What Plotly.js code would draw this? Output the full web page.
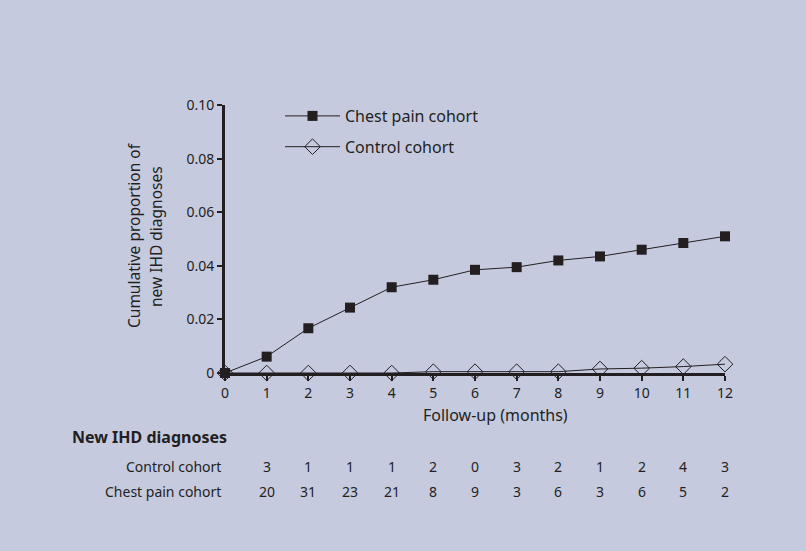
<!DOCTYPE html>
<html><head><meta charset="utf-8">
<script src="https://cdn.plot.ly/plotly-3.0.1.min.js"></script>
<style>html,body{margin:0;padding:0;background:#c5cadf}</style>
</head><body><div id="chart" style="width:806px;height:551px"></div>
<script>
const months = [0,1,2,3,4,5,6,7,8,9,10,11,12];
const chestPain = [0,0.0061,0.0167,0.0244,0.032,0.0348,0.0385,0.0395,0.042,0.0435,0.046,0.0485,0.051];
const control = [0,0,0,0,0,0.0005,0.0005,0.0005,0.0005,0.0015,0.0018,0.0024,0.0033];
const yTickVals = [0,0.02,0.04,0.06,0.08,0.10];
const yTickText = ['0','0.02','0.04','0.06','0.08','0.10'];
const tableMonths = [1,2,3,4,5,6,7,8,9,10,11,12];
const controlCounts = [3,1,1,1,2,0,3,2,1,2,4,3];
const chestCounts = [20,31,23,21,8,9,3,6,3,6,5,2];
const seriesNames = ['Chest pain cohort','Control cohort'];
const tableTitle = 'New IHD diagnoses';
const xTitle = 'Follow-up (months)';
const yTitleLines = ['Cumulative proportion of','new IHD diagnoses'];

const ink = '#231f20';
const font = 'Noto Sans, Open Sans, sans-serif';
const M = {l:225, r:81, t:105, b:178};
const plotH = 551 - M.t - M.b, plotW = 806 - M.l - M.r;
const py = p => (551 - M.b - p) / plotH;
const px = p => (p - M.l) / plotW;

const traces = [
  {x: months, y: chestPain, name: seriesNames[0], type:'scatter', mode:'lines+markers',
   legendgroup:'a', line:{color:ink, width:1}, marker:{symbol:'square', size:10, color:ink}, cliponaxis:false},
  {x: months, y: control, name: seriesNames[1], type:'scatter', mode:'lines+markers',
   legendgroup:'b', line:{color:ink, width:1}, marker:{symbol:'diamond-open', size:12, color:ink, line:{width:1}}, cliponaxis:false}
];

const ann = [];
const A = (o) => Object.assign({showarrow:false, xanchor:'center', yanchor:'middle'}, o);
ann.push(A({text: xTitle, xref:'paper', yref:'paper', x: px(495), y: py(415), font:{size:16, color:ink, family:font}}));
ann.push(A({text: yTitleLines[0], xref:'paper', yref:'paper', x: px(134), y: py(236), textangle:-90, font:{size:15.5, color:ink, family:font}}));
ann.push(A({text: yTitleLines[1], xref:'paper', yref:'paper', x: px(156), y: py(237), textangle:-90, font:{size:15.5, color:ink, family:font}}));
ann.push(A({text: '<b>' + tableTitle + '</b>', xref:'paper', yref:'paper', x: px(70), y: py(437), xanchor:'left', font:{size:16, color:ink, family:font}}));
ann.push(A({text: seriesNames[1], xref:'paper', yref:'paper', x: px(223), y: py(466), xanchor:'right', font:{size:14, color:ink, family:font}}));
ann.push(A({text: seriesNames[0], xref:'paper', yref:'paper', x: px(223), y: py(491), xanchor:'right', font:{size:14, color:ink, family:font}}));
tableMonths.forEach((m,i) => {
  ann.push(A({text: String(controlCounts[i]), xref:'x', yref:'paper', x: m, y: py(466), font:{size:14, color:ink, family:font}}));
  ann.push(A({text: String(chestCounts[i]), xref:'x', yref:'paper', x: m, y: py(491), font:{size:14, color:ink, family:font}}));
});

const layout = {
  width:806, height:551, margin:M,
  paper_bgcolor:'#c5cadf', plot_bgcolor:'#c5cadf',
  font:{family:font, color:ink, size:14},
  showlegend:true,
  legend:{x: px(280), y: py(99), xanchor:'left', yanchor:'top', bgcolor:'rgba(0,0,0,0)',
          font:{size:16, color:ink, family:font}, traceorder:'grouped', tracegroupgap:7, itemwidth:55},
  xaxis:{range:[0,12], tickvals: months, ticks:'outside', ticklen:5, tickwidth:2, tickcolor:ink,
         showline:true, linewidth:3, linecolor:ink, showgrid:false, zeroline:false,
         tickfont:{size:14, color:ink, family:font}},
  yaxis:{range:[0,0.1], tickvals: yTickVals, ticktext: yTickText, ticks:'outside', ticklen:5, tickwidth:2, tickcolor:ink,
         showline:true, linewidth:3, linecolor:ink, showgrid:false, zeroline:false,
         tickfont:{size:14, color:ink, family:font}},
  annotations: ann
};
Plotly.newPlot('chart', traces, layout, {displayModeBar:false, staticPlot:true});
</script></body></html>
